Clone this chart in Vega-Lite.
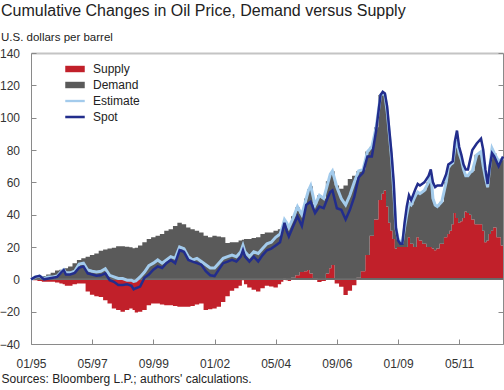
{
  "$schema": "https://vega.github.io/schema/vega-lite/v6.json",
  "width": 472,
  "height": 291,
  "autosize": "none",
  "padding": {"left": 31, "top": 53, "right": 1, "bottom": 46},
  "config": {
    "font": "Liberation Sans",
    "view": {"stroke": null},
    "axis": {"grid": false, "domainColor": "#8a8a8a", "tickColor": "#8a8a8a", "labelColor": "#333333", "labelFontSize": 12, "labelFont": "Liberation Sans"},
    "legend": {"padding": 0, "labelFont": "Liberation Sans", "labelFontSize": 12, "labelColor": "#222222", "title": null, "labelAlign": "left", "direction": "vertical", "labelLimit": 200}
  },
  "title": {
    "text": "Cumulative Changes in Oil Price, Demand versus Supply",
    "subtitle": "U.S. dollars per barrel",
    "anchor": "start",
    "frame": "group",
    "dx": -30,
    "offset": 4,
    "fontSize": 16,
    "fontWeight": "normal",
    "color": "#222222",
    "subtitleFontSize": 11.5,
    "subtitleColor": "#222222",
    "subtitlePadding": 12.7,
    "font": "Liberation Sans",
    "subtitleFont": "Liberation Sans"
  },
  "data": {"values": [
    {"date":"1995-01-01","Supply":0,"Demand":0,"Estimate":0,"Spot":0},
    {"date":"1995-03-01","Supply":-0.5,"Demand":1.5,"Estimate":1.5,"Spot":1.5},
    {"date":"1995-05-01","Supply":-1,"Demand":2,"Estimate":2,"Spot":2.2},
    {"date":"1995-07-01","Supply":-1.5,"Demand":2,"Estimate":0.5,"Spot":0},
    {"date":"1995-09-01","Supply":-1.5,"Demand":3,"Estimate":1.5,"Spot":0.5},
    {"date":"1995-11-01","Supply":-1.5,"Demand":4,"Estimate":1.5,"Spot":1},
    {"date":"1996-01-01","Supply":-2,"Demand":5.4,"Estimate":2,"Spot":1.5},
    {"date":"1996-03-01","Supply":-2.5,"Demand":6,"Estimate":5,"Spot":4.5},
    {"date":"1996-04-01","Supply":-3,"Demand":6.5,"Estimate":6,"Spot":5.7},
    {"date":"1996-05-01","Supply":-4,"Demand":6.8,"Estimate":4,"Spot":3},
    {"date":"1996-07-01","Supply":-4,"Demand":8,"Estimate":4,"Spot":3},
    {"date":"1996-09-01","Supply":-3,"Demand":10,"Estimate":5,"Spot":4},
    {"date":"1996-11-01","Supply":-2.5,"Demand":12,"Estimate":9.4,"Spot":7.2},
    {"date":"1997-01-01","Supply":-2.5,"Demand":13,"Estimate":10,"Spot":8},
    {"date":"1997-03-01","Supply":-7.5,"Demand":14,"Estimate":5.8,"Spot":3.7},
    {"date":"1997-05-01","Supply":-9.5,"Demand":15,"Estimate":5,"Spot":3},
    {"date":"1997-07-01","Supply":-10.5,"Demand":16,"Estimate":4.5,"Spot":2.2},
    {"date":"1997-09-01","Supply":-11,"Demand":17.7,"Estimate":5,"Spot":2.5},
    {"date":"1997-11-01","Supply":-13,"Demand":18.5,"Estimate":6.6,"Spot":3.7},
    {"date":"1998-01-01","Supply":-15,"Demand":19,"Estimate":2.5,"Spot":-0.5},
    {"date":"1998-03-01","Supply":-18,"Demand":19.5,"Estimate":1.5,"Spot":-1.5},
    {"date":"1998-05-01","Supply":-19,"Demand":20.5,"Estimate":0.5,"Spot":-3.5},
    {"date":"1998-07-01","Supply":-20,"Demand":20.5,"Estimate":0.5,"Spot":-3.5},
    {"date":"1998-09-01","Supply":-19,"Demand":20.2,"Estimate":-0.5,"Spot":-3},
    {"date":"1998-11-01","Supply":-18,"Demand":19.8,"Estimate":-0.5,"Spot":-4},
    {"date":"1998-12-01","Supply":-19,"Demand":19.2,"Estimate":-1.3,"Spot":-6.2},
    {"date":"1999-01-01","Supply":-20.5,"Demand":19.5,"Estimate":-1,"Spot":-5.5},
    {"date":"1999-03-01","Supply":-20,"Demand":21,"Estimate":1.5,"Spot":-4.5},
    {"date":"1999-05-01","Supply":-19,"Demand":23,"Estimate":4.5,"Spot":1},
    {"date":"1999-07-01","Supply":-16,"Demand":25,"Estimate":8.5,"Spot":3},
    {"date":"1999-09-01","Supply":-15,"Demand":26,"Estimate":10,"Spot":6},
    {"date":"1999-11-01","Supply":-15,"Demand":27,"Estimate":12,"Spot":8},
    {"date":"2000-01-01","Supply":-15.5,"Demand":28,"Estimate":10,"Spot":7},
    {"date":"2000-03-01","Supply":-16,"Demand":30,"Estimate":12,"Spot":10},
    {"date":"2000-05-01","Supply":-16,"Demand":31,"Estimate":14,"Spot":12},
    {"date":"2000-07-01","Supply":-16.5,"Demand":33,"Estimate":13,"Spot":10},
    {"date":"2000-09-01","Supply":-17,"Demand":35,"Estimate":20,"Spot":18},
    {"date":"2000-11-01","Supply":-17,"Demand":34,"Estimate":19,"Spot":17},
    {"date":"2001-01-01","Supply":-17,"Demand":32,"Estimate":14,"Spot":12},
    {"date":"2001-03-01","Supply":-16.5,"Demand":31,"Estimate":12,"Spot":11},
    {"date":"2001-05-01","Supply":-15.5,"Demand":30,"Estimate":13,"Spot":10},
    {"date":"2001-07-01","Supply":-15,"Demand":29,"Estimate":11,"Spot":9},
    {"date":"2001-09-01","Supply":-19,"Demand":27,"Estimate":9,"Spot":5},
    {"date":"2001-11-01","Supply":-18.5,"Demand":26,"Estimate":7,"Spot":2.5},
    {"date":"2002-01-01","Supply":-18,"Demand":27,"Estimate":7,"Spot":2},
    {"date":"2002-03-01","Supply":-17,"Demand":26.5,"Estimate":10,"Spot":6},
    {"date":"2002-05-01","Supply":-14,"Demand":26,"Estimate":13,"Spot":10},
    {"date":"2002-07-01","Supply":-10.5,"Demand":22.5,"Estimate":14,"Spot":11},
    {"date":"2002-09-01","Supply":-7,"Demand":23,"Estimate":15,"Spot":12},
    {"date":"2002-11-01","Supply":-5.5,"Demand":23,"Estimate":14,"Spot":11},
    {"date":"2003-01-01","Supply":-4,"Demand":24,"Estimate":17,"Spot":14},
    {"date":"2003-02-01","Supply":-0.5,"Demand":24.5,"Estimate":21,"Spot":18},
    {"date":"2003-03-01","Supply":-3,"Demand":25,"Estimate":17,"Spot":14},
    {"date":"2003-05-01","Supply":-5,"Demand":25,"Estimate":14,"Spot":11},
    {"date":"2003-07-01","Supply":-6.5,"Demand":25.5,"Estimate":17,"Spot":14},
    {"date":"2003-09-01","Supply":-7.5,"Demand":26,"Estimate":16,"Spot":11},
    {"date":"2003-11-01","Supply":-5.5,"Demand":28,"Estimate":19,"Spot":15},
    {"date":"2004-01-01","Supply":-4,"Demand":29,"Estimate":22,"Spot":18},
    {"date":"2004-03-01","Supply":-4.5,"Demand":29,"Estimate":23,"Spot":19},
    {"date":"2004-05-01","Supply":-5,"Demand":30,"Estimate":26,"Spot":21},
    {"date":"2004-07-01","Supply":-3,"Demand":31,"Estimate":28,"Spot":23},
    {"date":"2004-08-01","Supply":-1.5,"Demand":33,"Estimate":32,"Spot":29},
    {"date":"2004-09-01","Supply":0.5,"Demand":36,"Estimate":37,"Spot":35},
    {"date":"2004-10-01","Supply":-0.5,"Demand":35,"Estimate":35,"Spot":30},
    {"date":"2004-11-01","Supply":-1,"Demand":34,"Estimate":32,"Spot":26.5},
    {"date":"2005-01-01","Supply":1,"Demand":38,"Estimate":38,"Spot":33},
    {"date":"2005-03-01","Supply":2.6,"Demand":42,"Estimate":45,"Spot":39},
    {"date":"2005-05-01","Supply":4.5,"Demand":36,"Estimate":40,"Spot":33},
    {"date":"2005-07-01","Supply":5,"Demand":45,"Estimate":50,"Spot":46},
    {"date":"2005-08-01","Supply":5.7,"Demand":50,"Estimate":55,"Spot":47},
    {"date":"2005-09-01","Supply":3.6,"Demand":54,"Estimate":58,"Spot":48},
    {"date":"2005-11-01","Supply":0.5,"Demand":46,"Estimate":46,"Spot":41},
    {"date":"2006-01-01","Supply":-1.6,"Demand":52,"Estimate":52,"Spot":45},
    {"date":"2006-03-01","Supply":-1,"Demand":50,"Estimate":50,"Spot":44},
    {"date":"2006-05-01","Supply":3.6,"Demand":57,"Estimate":60,"Spot":51},
    {"date":"2006-06-01","Supply":6.8,"Demand":58,"Estimate":65,"Spot":54},
    {"date":"2006-07-01","Supply":8.8,"Demand":58,"Estimate":67,"Spot":55},
    {"date":"2006-09-01","Supply":-2.5,"Demand":58,"Estimate":57,"Spot":44},
    {"date":"2006-11-01","Supply":-4.6,"Demand":56,"Estimate":50,"Spot":43},
    {"date":"2007-01-01","Supply":-9.7,"Demand":58,"Estimate":46,"Spot":37},
    {"date":"2007-03-01","Supply":-7,"Demand":62,"Estimate":52,"Spot":43},
    {"date":"2007-05-01","Supply":-3.6,"Demand":64,"Estimate":60,"Spot":51},
    {"date":"2007-07-01","Supply":1,"Demand":66,"Estimate":67,"Spot":63},
    {"date":"2007-09-01","Supply":5,"Demand":63,"Estimate":68,"Spot":66},
    {"date":"2007-11-01","Supply":15,"Demand":64,"Estimate":79,"Spot":76},
    {"date":"2008-01-01","Supply":27,"Demand":55,"Estimate":82,"Spot":76},
    {"date":"2008-03-01","Supply":37,"Demand":57,"Estimate":94,"Spot":92},
    {"date":"2008-05-01","Supply":49,"Demand":65,"Estimate":114,"Spot":114},
    {"date":"2008-06-01","Supply":53,"Demand":62,"Estimate":115,"Spot":116},
    {"date":"2008-07-01","Supply":55,"Demand":59,"Estimate":114,"Spot":115},
    {"date":"2008-08-01","Supply":45,"Demand":59,"Estimate":104,"Spot":107},
    {"date":"2008-09-01","Supply":35,"Demand":55,"Estimate":90,"Spot":92},
    {"date":"2008-10-01","Supply":30,"Demand":45,"Estimate":75,"Spot":78},
    {"date":"2008-11-01","Supply":25,"Demand":30,"Estimate":55,"Spot":60},
    {"date":"2008-12-01","Supply":19,"Demand":13,"Estimate":32,"Spot":32},
    {"date":"2009-01-01","Supply":20,"Demand":5,"Estimate":25,"Spot":24},
    {"date":"2009-02-01","Supply":20,"Demand":3,"Estimate":23,"Spot":22},
    {"date":"2009-03-01","Supply":20,"Demand":3,"Estimate":23,"Spot":22},
    {"date":"2009-04-01","Supply":20,"Demand":12,"Estimate":32,"Spot":35},
    {"date":"2009-05-01","Supply":20,"Demand":20,"Estimate":40,"Spot":45},
    {"date":"2009-06-01","Supply":26,"Demand":21,"Estimate":47,"Spot":52},
    {"date":"2009-07-01","Supply":22,"Demand":24,"Estimate":46,"Spot":49},
    {"date":"2009-09-01","Supply":20,"Demand":32,"Estimate":52,"Spot":56},
    {"date":"2009-10-01","Supply":26,"Demand":28,"Estimate":54,"Spot":59},
    {"date":"2009-11-01","Supply":24,"Demand":29,"Estimate":53,"Spot":58},
    {"date":"2010-01-01","Supply":22,"Demand":33,"Estimate":55,"Spot":60},
    {"date":"2010-03-01","Supply":20,"Demand":40,"Estimate":60,"Spot":64},
    {"date":"2010-04-01","Supply":20,"Demand":46,"Estimate":66,"Spot":68},
    {"date":"2010-05-01","Supply":19,"Demand":31,"Estimate":50,"Spot":60},
    {"date":"2010-06-01","Supply":18,"Demand":28,"Estimate":46,"Spot":57},
    {"date":"2010-07-01","Supply":19,"Demand":26,"Estimate":45,"Spot":58},
    {"date":"2010-09-01","Supply":22,"Demand":26,"Estimate":48,"Spot":58},
    {"date":"2010-11-01","Supply":26,"Demand":34,"Estimate":60,"Spot":65},
    {"date":"2010-12-01","Supply":28,"Demand":41,"Estimate":69,"Spot":71},
    {"date":"2011-01-01","Supply":30,"Demand":41,"Estimate":71,"Spot":72},
    {"date":"2011-02-01","Supply":34,"Demand":38,"Estimate":72,"Spot":73},
    {"date":"2011-03-01","Supply":41,"Demand":40,"Estimate":81,"Spot":85},
    {"date":"2011-04-01","Supply":38,"Demand":48,"Estimate":86,"Spot":92},
    {"date":"2011-05-01","Supply":35,"Demand":43,"Estimate":78,"Spot":82},
    {"date":"2011-06-01","Supply":36,"Demand":38,"Estimate":74,"Spot":77},
    {"date":"2011-07-01","Supply":38,"Demand":30,"Estimate":68,"Spot":71},
    {"date":"2011-08-01","Supply":42,"Demand":22,"Estimate":64,"Spot":68},
    {"date":"2011-09-01","Supply":41,"Demand":23,"Estimate":64,"Spot":68},
    {"date":"2011-10-01","Supply":40,"Demand":26,"Estimate":66,"Spot":74},
    {"date":"2011-11-01","Supply":37,"Demand":30,"Estimate":67,"Spot":80},
    {"date":"2012-01-01","Supply":34,"Demand":43,"Estimate":77,"Spot":84},
    {"date":"2012-03-01","Supply":34,"Demand":45,"Estimate":79,"Spot":87},
    {"date":"2012-04-01","Supply":30,"Demand":40,"Estimate":70,"Spot":80},
    {"date":"2012-05-01","Supply":23,"Demand":40,"Estimate":63,"Spot":68},
    {"date":"2012-06-01","Supply":24,"Demand":33,"Estimate":57,"Spot":59},
    {"date":"2012-07-01","Supply":28,"Demand":42,"Estimate":70,"Spot":70},
    {"date":"2012-08-01","Supply":30,"Demand":51,"Estimate":81,"Spot":78},
    {"date":"2012-09-01","Supply":32,"Demand":46,"Estimate":78,"Spot":76},
    {"date":"2012-11-01","Supply":26,"Demand":47,"Estimate":73,"Spot":70},
    {"date":"2013-01-01","Supply":21,"Demand":54,"Estimate":75,"Spot":76}
  ]},
  "resolve": {"axis": {"x": "independent", "y": "independent"}},
  "layer": [
    {
      "transform": [{"fold": ["Supply", "Demand"], "as": ["series", "value"]}],
      "mark": {"type": "area", "interpolate": "step"},
      "encoding": {
        "x": {"field": "date", "type": "temporal",
          "scale": {"type": "utc", "domain": [{"year": 1995, "month": 1, "date": 1, "utc": true}, {"year": 2013, "month": 1, "date": 1, "utc": true}]},
          "axis": {"orient": "bottom", "format": "%m/%y",
            "values": [{"year": 1995, "month": 1, "date": 1, "utc": true}, {"year": 1997, "month": 5, "date": 1, "utc": true}, {"year": 1999, "month": 9, "date": 1, "utc": true}, {"year": 2002, "month": 1, "date": 1, "utc": true}, {"year": 2004, "month": 5, "date": 1, "utc": true}, {"year": 2006, "month": 9, "date": 1, "utc": true}, {"year": 2009, "month": 1, "date": 1, "utc": true}, {"year": 2011, "month": 5, "date": 1, "utc": true}],
            "tickSize": -5, "labelPadding": 19, "labelFlush": false, "labelOverlap": false, "labelBound": false,
            "title": "Sources: Bloomberg L.P.; authors' calculations.",
            "titleX": -30, "titleY": 38, "titleAlign": "left", "titleAnchor": "start", "titleBaseline": "alphabetic",
            "titleFontWeight": "normal", "titleFontSize": 12, "titleColor": "#222222", "titleFont": "Liberation Sans"}},
        "y": {"field": "value", "type": "quantitative", "stack": "zero",
          "scale": {"domain": [-40, 140], "nice": false, "zero": false},
          "axis": {"orient": "left", "values": [-40, -20, 0, 20, 40, 60, 80, 100, 120, 140], "tickSize": -5, "labelPadding": 16.5, "title": null}},
        "color": {"field": "series", "type": "nominal",
          "scale": {"domain": ["Supply", "Demand", "Estimate", "Spot"], "range": ["#c1202a", "#5a5a5a", "#a3cbec", "#222d8c"]},
          "legend": {"orient": "none", "legendX": 34, "legendY": 6, "symbolType": "M-1,-0.33H1V0.33H-1Z", "symbolSize": 380, "symbolStrokeWidth": 0, "symbolOpacity": 1, "labelOffset": 8, "rowPadding": -2.7,
            "encode": {"symbols": {"update": {"shape": {"signal": "datum.value === 'Estimate' ? 'M-1,-0.12H1V0.12H-1Z' : datum.value === 'Spot' ? 'M-1,-0.13H1V0.13H-1Z' : 'M-1,-0.33H1V0.33H-1Z'"}}}}}},
        "order": {"field": "series", "sort": "descending"}
      }
    },
    {
      "mark": {"type": "rule", "color": "#6e6e6e", "strokeWidth": 1},
      "encoding": {
        "y": {"datum": 0, "type": "quantitative",
          "axis": {"orient": "right", "values": [-40, -20, 0, 20, 40, 60, 80, 100, 120, 140], "tickSize": -5, "labels": false, "title": null}}
      }
    },
    {
      "mark": {"type": "line", "strokeWidth": 3},
      "encoding": {
        "x": {"field": "date", "type": "temporal",
          "axis": {"orient": "top", "domain": true, "domainColor": "#c4c4c4", "domainWidth": 2, "ticks": false, "labels": false, "title": null}},
        "y": {"field": "Estimate", "type": "quantitative", "axis": null},
        "color": {"datum": "Estimate"}
      }
    },
    {
      "mark": {"type": "line", "strokeWidth": 2.5},
      "encoding": {
        "x": {"field": "date", "type": "temporal", "axis": null},
        "y": {"field": "Spot", "type": "quantitative", "axis": null},
        "color": {"datum": "Spot"}
      }
    }
  ]
}
